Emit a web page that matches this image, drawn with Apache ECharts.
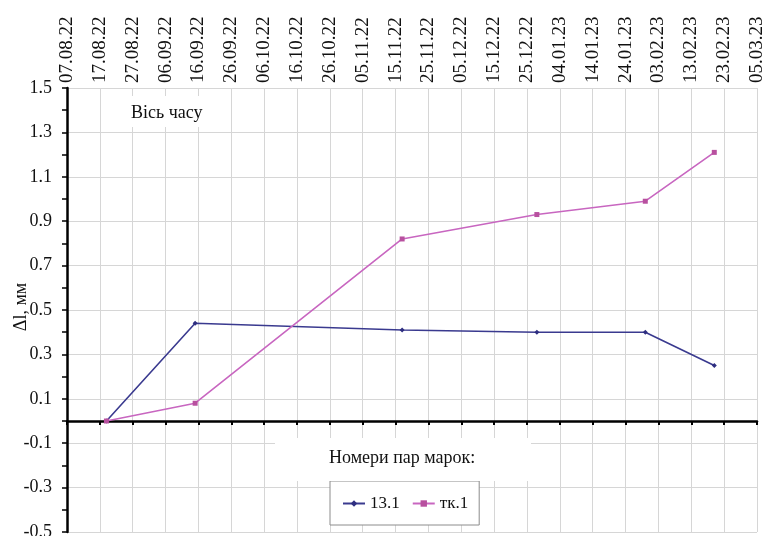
<!DOCTYPE html>
<html>
<head>
<meta charset="utf-8">
<script src="https://cdn.jsdelivr.net/npm/echarts@6/dist/echarts.min.js"></script>
<style>html,body{margin:0;padding:0;background:#fff;}#c{width:767px;height:536px;}</style>
</head>
<body>
<div id="c"></div>
<script>
const tickLabels = ['07.08.22','17.08.22','27.08.22','06.09.22','16.09.22','26.09.22','06.10.22','16.10.22','26.10.22','05.11.22','15.11.22','25.11.22','05.12.22','15.12.22','25.12.22','04.01.23','14.01.23','24.01.23','03.02.23','13.02.23','23.02.23','05.03.23'];
const pointDates = ['19.08.22','15.09.22','17.11.22','28.12.22','30.01.23','20.02.23'];
const series131 = [0, 0.44, 0.41, 0.40, 0.40, 0.25];
const seriesTk1 = [0, 0.08, 0.82, 0.93, 0.99, 1.21];
const seriesNames = ['13.1', 'тк.1'];
const yMin = -0.5, yMax = 1.5, yStep = 0.2;

function parseDate(s) {
  const p = s.split('.');
  return Date.UTC(2000 + +p[2], +p[1] - 1, +p[0]);
}
const DAY = 86400000;
const xMin = parseDate(tickLabels[0]);
const xMax = parseDate(tickLabels[tickLabels.length - 1]);
const xStep = 10 * DAY;
const FONT = '"Liberation Serif", "Times New Roman", serif';
const gridColor = '#d6d6d6';

const chart = echarts.init(document.getElementById('c'));
chart.setOption({
  animation: false,
  backgroundColor: '#fff',
  grid: { left: 67, right: 10, top: 88, bottom: 4, containLabel: false, outerBoundsMode: 'none' },
  xAxis: [
    {
      type: 'value', position: 'top', min: xMin, max: xMax, interval: xStep,
      axisLine: { show: false }, axisTick: { show: false },
      splitLine: { show: true, lineStyle: { color: gridColor, width: 1 } },
      axisLabel: {
        rotate: 90, margin: 5, color: '#111', fontFamily: FONT, fontSize: 19,
        formatter: function (v) { return tickLabels[Math.round((v - xMin) / xStep)] || ''; }
      }
    },
    {
      type: 'value', position: 'bottom', min: xMin, max: xMax, interval: xStep,
      axisLine: { show: true, onZero: true, onZeroAxisIndex: 0, lineStyle: { color: '#000', width: 2.5 } },
      axisTick: { show: true, length: 4, lineStyle: { color: '#000', width: 2 } },
      axisLabel: { show: false },
      splitLine: { show: false }
    }
  ],
  yAxis: {
    type: 'value', min: yMin, max: yMax, interval: yStep,
    axisLine: { show: true, onZero: false, lineStyle: { color: '#000', width: 2.5 } },
    axisTick: { show: true, length: 5, lineStyle: { color: '#000', width: 1.5 } },
    minorTick: { show: true, splitNumber: 2, length: 5, lineStyle: { color: '#000', width: 1.5 } },
    splitLine: { show: true, lineStyle: { color: gridColor, width: 1 } },
    axisLabel: {
      margin: 15, color: '#111', fontFamily: FONT, fontSize: 18,
      formatter: function (v) { return (Math.round(v * 10) / 10).toFixed(1); }
    }
  },
  legend: {
    left: 330, top: 481, orient: 'horizontal',
    borderColor: '#8c8c8c', borderWidth: 1, backgroundColor: '#fff',
    padding: [14, 11, 13, 12], itemWidth: 22, itemHeight: 8, itemGap: 12,
    textStyle: { fontFamily: FONT, fontSize: 17, color: '#111' },
    data: seriesNames
  },
  graphic: [
    { type: 'rect', z: 50, shape: { x: 122, y: 96, width: 90, height: 31 }, style: { fill: '#fff' } },
    { type: 'text', z: 51, x: 131, y: 113, style: { text: 'Вісь часу', fontFamily: FONT, fontSize: 18, fill: '#111', verticalAlign: 'middle' } },
    { type: 'rect', z: 50, shape: { x: 275, y: 438, width: 256, height: 43 }, style: { fill: '#fff' } },
    { type: 'text', z: 51, x: 329, y: 458, style: { text: 'Номери пар марок:', fontFamily: FONT, fontSize: 18, fill: '#111', verticalAlign: 'middle' } },
    { type: 'text', z: 51, x: 21, y: 307, rotation: Math.PI / 2, style: { text: 'Δl, мм', fontFamily: FONT, fontSize: 18, fill: '#111', align: 'center', verticalAlign: 'middle' } }
  ],
  series: [
    {
      name: seriesNames[0], type: 'line', xAxisIndex: 0,
      data: pointDates.map((d, i) => [parseDate(d), series131[i]]),
      symbol: 'diamond', symbolSize: 5, showSymbol: true,
      lineStyle: { color: '#3a3a8f', width: 1.6 },
      itemStyle: { color: '#2e2e80' }
    },
    {
      name: seriesNames[1], type: 'line', xAxisIndex: 0,
      data: pointDates.map((d, i) => [parseDate(d), seriesTk1[i]]),
      symbol: 'rect', symbolSize: 5, showSymbol: true,
      lineStyle: { color: '#c866c0', width: 1.6 },
      itemStyle: { color: '#b8509f' }
    }
  ]
});
</script>
</body>
</html>
